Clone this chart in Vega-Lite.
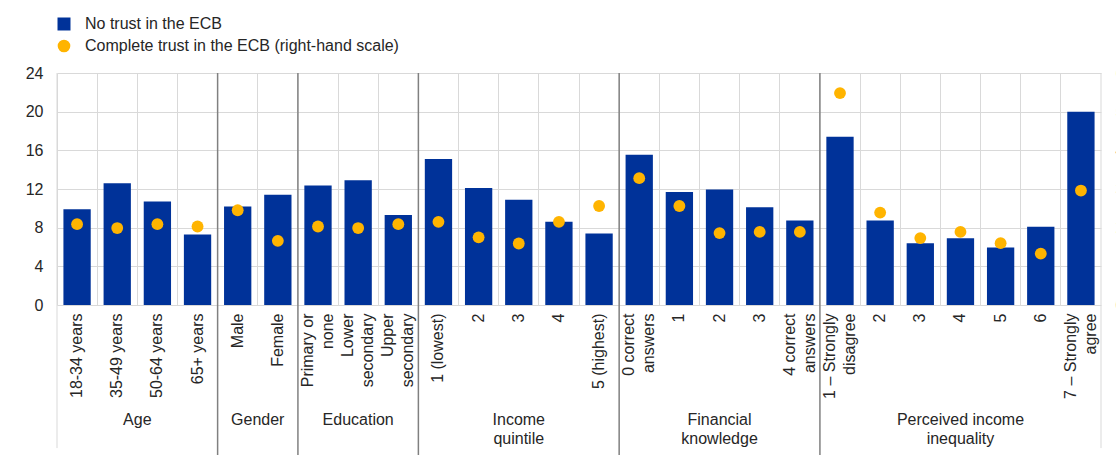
{
  "$schema": "https://vega.github.io/schema/vega-lite/v6.json",
  "autosize": {"type": "none"},
  "padding": {"left": 57, "top": 73, "right": 15, "bottom": 150},
  "width": 1044,
  "height": 232,
  "background": "white",
  "config": {
    "view": {"stroke": null},
    "font": "Liberation Sans",
    "text": {"font": "Liberation Sans"}
  },
  "datasets": {
    "main": [
      {"key": "Age|18-34 years", "no_trust": 9.9, "complete_trust": 2.09},
      {"key": "Age|35-49 years", "no_trust": 12.6, "complete_trust": 1.99},
      {"key": "Age|50-64 years", "no_trust": 10.7, "complete_trust": 2.09},
      {"key": "Age|65+ years", "no_trust": 7.3, "complete_trust": 2.03},
      {"key": "Gender|Male", "no_trust": 10.2, "complete_trust": 2.45},
      {"key": "Gender|Female", "no_trust": 11.4, "complete_trust": 1.66},
      {"key": "Education|Primary or~none", "no_trust": 12.35, "complete_trust": 2.03},
      {"key": "Education|Lower~secondary", "no_trust": 12.9, "complete_trust": 1.99},
      {"key": "Education|Upper~secondary", "no_trust": 9.3, "complete_trust": 2.09},
      {"key": "Income|1 (lowest)", "no_trust": 15.1, "complete_trust": 2.15},
      {"key": "Income|2", "no_trust": 12.1, "complete_trust": 1.75},
      {"key": "Income|3", "no_trust": 10.9, "complete_trust": 1.59},
      {"key": "Income|4", "no_trust": 8.6, "complete_trust": 2.15},
      {"key": "Income|5 (highest)", "no_trust": 7.4, "complete_trust": 2.56},
      {"key": "Financial|0 correct~answers", "no_trust": 15.55, "complete_trust": 3.28},
      {"key": "Financial|1", "no_trust": 11.7, "complete_trust": 2.56},
      {"key": "Financial|2", "no_trust": 11.95, "complete_trust": 1.86},
      {"key": "Financial|3", "no_trust": 10.1, "complete_trust": 1.89},
      {"key": "Financial|4 correct~answers", "no_trust": 8.75, "complete_trust": 1.89},
      {"key": "Inequality|1 – Strongly~disagree", "no_trust": 17.4, "complete_trust": 5.48},
      {"key": "Inequality|2", "no_trust": 8.75, "complete_trust": 2.39},
      {"key": "Inequality|3", "no_trust": 6.4, "complete_trust": 1.73},
      {"key": "Inequality|4", "no_trust": 6.9, "complete_trust": 1.89},
      {"key": "Inequality|5", "no_trust": 5.95, "complete_trust": 1.6},
      {"key": "Inequality|6", "no_trust": 8.1, "complete_trust": 1.33},
      {"key": "Inequality|7 – Strongly~agree", "no_trust": 20.0, "complete_trust": 2.96}
    ],
    "seps": [{"at": 4}, {"at": 6}, {"at": 9}, {"at": 14}, {"at": 19}],
    "edges": [{"at": 0}, {"at": 26}],
    "titles": [
      {"title": "Age", "mid": 2},
      {"title": "Gender", "mid": 5},
      {"title": "Education", "mid": 7.5},
      {"title": "Income\nquintile", "mid": 11.5},
      {"title": "Financial\nknowledge", "mid": 16.5},
      {"title": "Perceived income\ninequality", "mid": 22.5}
    ]
  },
  "layer": [
    {
      "data": {"name": "main"},
      "mark": {"type": "bar", "width": {"band": 0.68}, "color": "#003299"},
      "encoding": {
        "x": {
          "field": "key", "type": "nominal", "sort": null,
          "scale": {"paddingInner": 0, "paddingOuter": 0},
          "axis": {
            "title": null, "labelAngle": -90, "labelAlign": "right", "labelBaseline": "middle",
            "labelExpr": "split(slice(datum.value, indexof(datum.value, '|') + 1), '~')",
            "labelOffset": {"condition": {"test": "indexof(datum.value, '~') >= 0", "value": -10}, "value": 0},
            "labelFontSize": 16, "labelColor": "#262626", "labelLineHeight": 20, "labelPadding": 8,
            "ticks": false, "domain": false, "grid": true, "gridColor": "#d9d9d9", "gridWidth": 1,
            "bandPosition": 0, "labelBound": false, "labelOverlap": false
          }
        },
        "y": {
          "field": "no_trust", "type": "quantitative",
          "scale": {"domain": [0, 24], "nice": false},
          "axis": {
            "title": null, "values": [0, 4, 8, 12, 16, 20, 24], "orient": "left",
            "labelFontSize": 16, "labelColor": "#262626", "labelPadding": 14,
            "ticks": false, "domain": false, "grid": true, "gridColor": "#d9d9d9", "gridWidth": 1
          }
        },
        "color": {
          "datum": "No trust in the ECB", "type": "nominal",
          "scale": {"range": ["#003299"]},
          "legend": {
            "title": null, "orient": "none", "legendX": -1, "legendY": -57, "padding": 0,
            "symbolType": "square", "symbolSize": 169, "symbolStrokeWidth": 0,
            "labelFontSize": 16, "labelColor": "#262626", "labelOffset": 13, "labelLimit": 500
          }
        }
      }
    },
    {
      "data": {"name": "seps"},
      "mark": {"type": "rule", "color": "#808080", "strokeWidth": 1.5},
      "encoding": {
        "x": {"field": "at", "type": "quantitative", "scale": {"domain": [0, 26], "nice": false, "zero": false}, "axis": null},
        "y": {"datum": 24, "type": "quantitative", "scale": {"domain": [0, 24], "nice": false}, "axis": null},
        "y2": {"datum": -16}
      }
    },
    {
      "data": {"name": "edges"},
      "mark": {"type": "rule", "color": "#d9d9d9", "strokeWidth": 1},
      "encoding": {
        "x": {"field": "at", "type": "quantitative", "scale": {"domain": [0, 26], "nice": false, "zero": false}, "axis": null},
        "y": {"datum": 24, "type": "quantitative", "scale": {"domain": [0, 24], "nice": false}, "axis": null},
        "y2": {"datum": -14.8}
      }
    },
    {
      "data": {"name": "titles"},
      "mark": {"type": "text", "fontSize": 16, "color": "#262626", "align": "center", "baseline": "top", "lineBreak": "\n", "lineHeight": 19},
      "encoding": {
        "x": {"field": "mid", "type": "quantitative", "scale": {"domain": [0, 26], "nice": false, "zero": false}, "axis": null},
        "y": {"datum": -11.1, "type": "quantitative", "scale": {"domain": [0, 24], "nice": false}, "axis": null},
        "text": {"field": "title"}
      }
    },
    {
      "data": {"name": "main"},
      "mark": {"type": "point", "filled": true, "size": 140, "color": "#FFB400", "opacity": 1},
      "encoding": {
        "x": {"field": "key", "type": "nominal", "sort": null, "scale": {"paddingInner": 0, "paddingOuter": 0}, "axis": null},
        "y": {
          "field": "complete_trust", "type": "quantitative",
          "scale": {"domain": [0, 6], "nice": false},
          "axis": {
            "title": null, "orient": "right", "values": [0, 1, 2, 3, 4, 5, 6],
            "labelFontSize": 16, "labelColor": "#262626", "labelPadding": 14,
            "ticks": false, "domain": false, "grid": false
          }
        },
        "shape": {
          "datum": "Complete trust in the ECB (right-hand scale)", "type": "nominal",
          "scale": {"range": ["circle"]},
          "legend": {
            "title": null, "orient": "none", "legendX": -1, "legendY": -35, "padding": 0,
            "symbolSize": 160, "symbolFillColor": "#FFB400", "symbolStrokeWidth": 0,
            "labelFontSize": 16, "labelColor": "#262626", "labelOffset": 13, "labelLimit": 500
          }
        }
      }
    }
  ],
  "resolve": {"scale": {"x": "independent", "y": "independent", "color": "independent", "shape": "independent"}}
}
